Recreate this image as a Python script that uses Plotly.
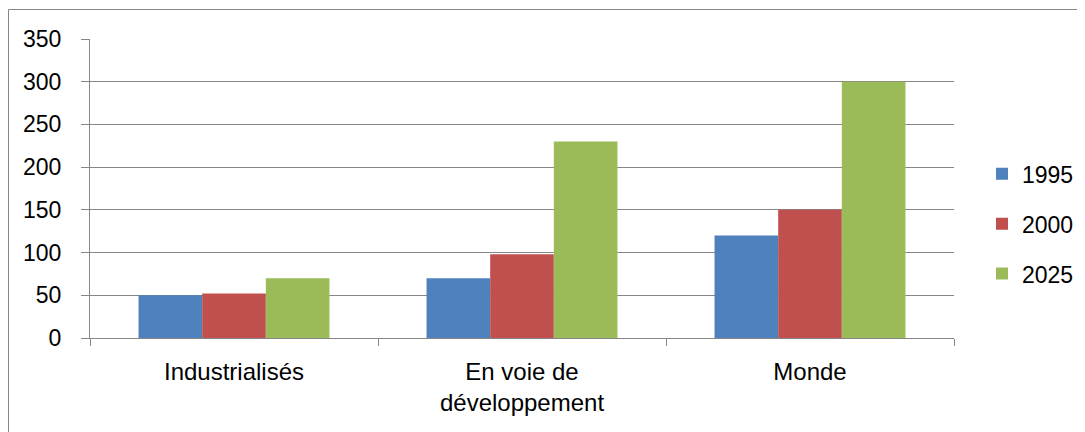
import plotly.graph_objects as go

categories = ["Industrialisés", "En voie de<br>développement", "Monde"]
series_names = ["1995", "2000", "2025"]
values_1995 = [50, 70, 120]
values_2000 = [52, 98, 150]
values_2025 = [70, 230, 300]
colors = ["#4F81BD", "#C0504D", "#9BBB59"]
y_ticks = [0, 50, 100, 150, 200, 250, 300, 350]

FONT = "Liberation Sans"
GRID = "#868686"

# page body has an 8px margin, so the figure is drawn from (8, 8)
W, H = 1077, 424
L, T = 82, 31
PW, PH = 864, 299

fig = go.Figure()
for name, vals, col in zip(series_names, [values_1995, values_2000, values_2025], colors):
    fig.add_trace(go.Bar(
        x=categories, y=vals, name=name, legendgroup=name,
        marker=dict(color=col, line=dict(width=0)),
    ))

fig.update_layout(
    width=W, height=H,
    margin=dict(l=L, r=W - L - PW, t=T, b=H - T - PH, pad=0, autoexpand=False),
    paper_bgcolor="white", plot_bgcolor="white",
    font=dict(family=FONT, size=23, color="black"),
    barmode="group", bargap=0.337, bargroupgap=0,
    showlegend=True,
    legend=dict(
        x=(974 - L) / PW, xanchor="left", y=0.382, yanchor="middle",
        traceorder="grouped", tracegroupgap=17,
        font=dict(family=FONT, size=23, color="black"),
        bgcolor="rgba(0,0,0,0)", itemwidth=30,
    ),
    xaxis=dict(
        type="category", showgrid=False, showline=True, linecolor=GRID, linewidth=1,
        ticks="outside", tickson="boundaries", ticklen=7, tickcolor=GRID,
        ticklabelstandoff=12, zeroline=False, automargin=False,
        tickfont=dict(family=FONT, size=24, color="black"),
    ),
    yaxis=dict(
        range=[0, 350], tickvals=y_ticks, showgrid=True, gridcolor=GRID, gridwidth=1,
        showline=True, linecolor=GRID, linewidth=1, ticks="outside", ticklen=8,
        tickcolor=GRID, ticklabelstandoff=15, zeroline=False, automargin=False,
        tickfont=dict(family=FONT, size=23, color="black"),
    ),
    shapes=[dict(type="rect", xref="paper", yref="paper",
                 x0=-(L - 0.5) / PW, x1=1.3, y0=-0.5, y1=1 + (T - 1.5) / PH,
                 line=dict(color=GRID, width=1), fillcolor="rgba(0,0,0,0)", layer="below")],
)

fig.write_html("out.html")
